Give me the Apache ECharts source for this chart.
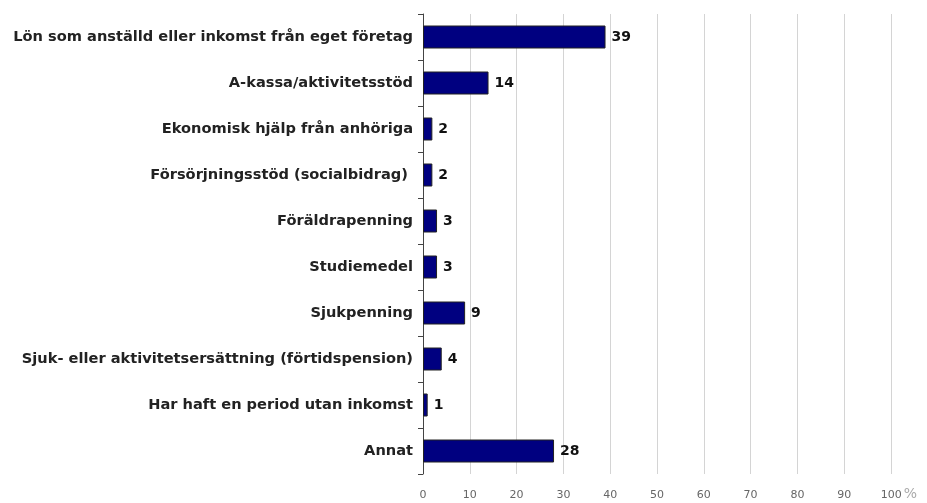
<!DOCTYPE html>
<html><head><meta charset="utf-8">
<script src="https://cdn.jsdelivr.net/npm/echarts@6/dist/echarts.min.js"></script>
<style>html,body{margin:0;padding:0;background:#fff}#c{width:927px;height:503px}</style>
</head><body><div id="c"></div>
<script>
const categories = [
  "Lön som anställd eller inkomst från eget företag",
  "A-kassa/aktivitetsstöd",
  "Ekonomisk hjälp från anhöriga",
  "Försörjningsstöd (socialbidrag) ",
  "Föräldrapenning",
  "Studiemedel",
  "Sjukpenning",
  "Sjuk- eller aktivitetsersättning (förtidspension)",
  "Har haft en period utan inkomst",
  "Annat"
];
const values = [39, 14, 2, 2, 3, 3, 9, 4, 1, 28];
const xTicks = [0, 10, 20, 30, 40, 50, 60, 70, 80, 90, 100];
const unit = "%";

const FONT = 'DejaVu Sans, Verdana, sans-serif';
const chart = echarts.init(document.getElementById('c'));
chart.setOption({
  animation: false,
  grid: { left: 423, right: 36, top: 14, bottom: 29, containLabel: false },
  xAxis: {
    type: 'value', min: xTicks[0], max: xTicks[xTicks.length - 1], interval: xTicks[1] - xTicks[0],
    axisLine: { show: false }, axisTick: { show: false },
    splitLine: { show: true, lineStyle: { color: '#d4d4d4', width: 1 } },
    axisLabel: {
      color: '#666', fontFamily: FONT, fontSize: 11, margin: 11,
      formatter: v => v === xTicks[xTicks.length - 1] ? '{s|}{n|' + v + '}{p|' + unit + '}' : '{n|' + v + '}',
      rich: { s: { width: 16, height: 16, lineHeight: 16 },
              n: { color: '#666', fontSize: 11, fontFamily: FONT, lineHeight: 16, verticalAlign: 'bottom' },
              p: { color: '#aaa', fontSize: 14, fontFamily: FONT, lineHeight: 16, verticalAlign: 'bottom', padding: [0, 0, 0, 2] } }
    }
  },
  yAxis: {
    type: 'category', inverse: true, data: categories,
    axisLine: { show: true, lineStyle: { color: '#444', width: 1 } },
    axisTick: { show: true, length: 5, lineStyle: { color: '#444' } },
    axisLabel: { color: '#222', fontWeight: 'bold', fontSize: 14.6, margin: 10, fontFamily: FONT }
  },
  series: [{
    type: 'bar', data: values, barWidth: '50%',
    itemStyle: { color: '#000080', borderColor: '#222', borderWidth: 1 },
    label: { show: true, position: 'right', distance: 6, color: '#111', fontWeight: 'bold',
             fontSize: 14, fontFamily: FONT }
  }]
});
</script></body></html>
